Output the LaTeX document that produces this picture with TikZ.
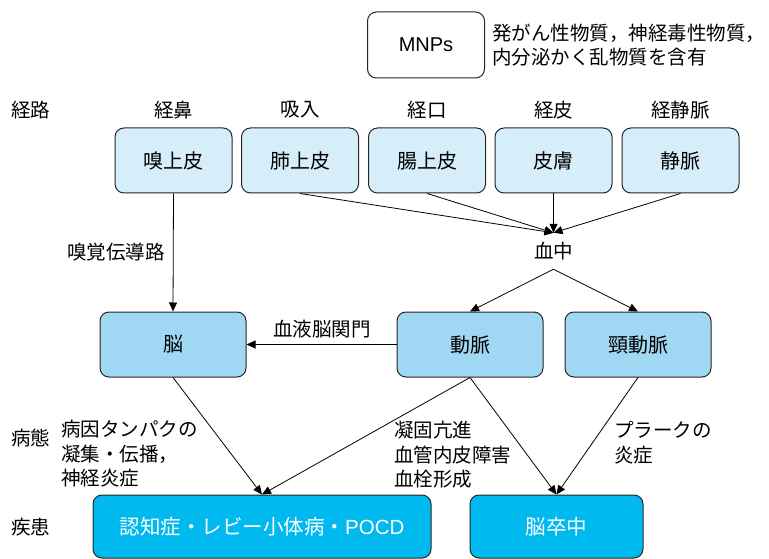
\documentclass[tikz,border=0pt]{standalone}
\usepackage{fontspec}
\setmainfont{Noto Sans CJK JP}
\newfontfamily\latinsans{Liberation Sans}
\usetikzlibrary{arrows.meta}
\definecolor{topblue}{RGB}{214,237,250}
\definecolor{midblue}{RGB}{160,215,243}
\definecolor{deepblue}{RGB}{0,185,238}
\begin{document}
\begin{tikzpicture}[x=1pt,y=-1pt,
  every node/.style={font=\fontsize{19.5}{24.5}\selectfont, inner sep=0pt},
  box/.style={draw=black!85, rounded corners=9pt, line width=1pt, minimum height=65pt, font=\fontsize{20}{24.5}\selectfont},
  topbox/.style={box, fill=topblue, minimum width=117pt},
  midbox/.style={box, fill=midblue, minimum width=146pt},
  disbox/.style={box, fill=deepblue, text=white, minimum height=63pt, font=\fontsize{20.5}{24.5}\selectfont},
  arr/.style={-{Triangle[length=9pt,width=8pt]}, line width=0.8pt},
  txt/.style={align=left}]
\useasboundingbox (0,0) rectangle (769,559);

% top
\node[box, fill=white, minimum width=117pt, minimum height=66pt] (mnps) at (426,45) {\latinsans MNPs};
\node[txt, anchor=west] (desc) at (492,45) {発がん性物質，神経毒性物質，\\内分泌かく乱物質を含有};

% route row
\node (lroute) at (31,110) {経路};
\node (r1) at (173.5,110) {経鼻};
\node (r2) at (300,110) {吸入};
\node (r3) at (427,110) {経口};
\node (r4) at (553.5,110) {経皮};
\node (r5) at (680.5,110) {経静脈};

\node[topbox] (n1) at (173.5,160.5) {嗅上皮};
\node[topbox] (n2) at (300,160.5) {肺上皮};
\node[topbox] (n3) at (427,160.5) {腸上皮};
\node[topbox] (n4) at (553.5,160.5) {皮膚};
\node[topbox] (n5) at (680.5,160.5) {静脈};

\node[minimum height=36pt] (blood) at (553.5,251) {血中};
\foreach \n in {n2,n3,n4,n5} \draw[arr] (\n.south) -- (blood.north);

\node[anchor=east] (olf) at (165,252) {嗅覚伝導路};

% middle row
\node[midbox] (brain) at (173,344.5) {脳};
\node[midbox] (artery) at (470,344.5) {動脈};
\node[midbox] (carotid) at (638,344.5) {頸動脈};

\draw[arr] (n1.south) -- (brain.north);
\draw[arr] (blood.south) -- (artery.north);
\draw[arr] (blood.south) -- (carotid.north);
\draw[arr] (artery.west) -- (brain.east);
\node (bbb) at (322,329) {血液脳関門};

% pathology
\node (lpath) at (31,438) {病態};
\node[txt, anchor=west] (p1) at (61,454) {病因タンパクの\\凝集・伝播，\\神経炎症};
\node[txt, anchor=west] (p2) at (394,455) {凝固亢進\\血管内皮障害\\血栓形成};
\node[txt, anchor=west] (p3) at (614,442.5) {プラークの\\炎症};

% disease
\node (ldis) at (31,527) {疾患};
\node[disbox, minimum width=338pt] (dem) at (262,526.5) {認知症・レビー小体病・{\latinsans POCD}};
\node[disbox, minimum width=173pt] (stroke) at (556.5,526.5) {脳卒中};

\draw[arr] (brain.south) -- (dem.north);
\draw[arr] (artery.south) -- (dem.north);
\draw[arr] (artery.south) -- (stroke.north);
\draw[arr] (carotid.south) -- (stroke.north);
\end{tikzpicture}
\end{document}
